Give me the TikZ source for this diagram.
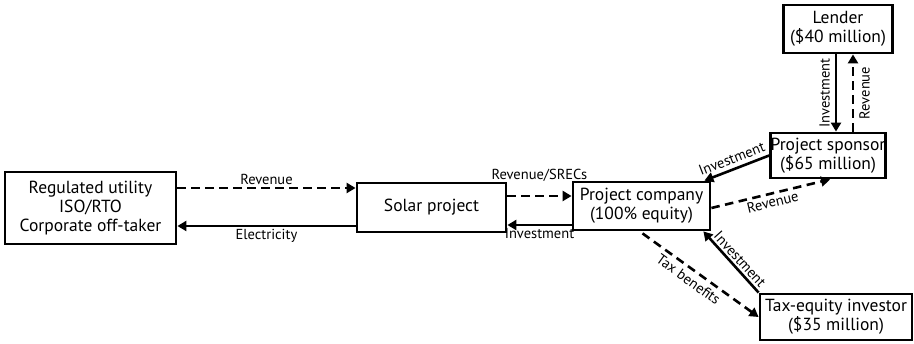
\documentclass[tikz,border=0pt]{standalone}
\usepackage{fontspec}
\setmainfont{PT Sans}
\usetikzlibrary{arrows.meta,calc}
\begin{document}
\begin{tikzpicture}[x=1pt,y=-1pt,
  box/.style={draw,line width=2.8pt,align=center,inner sep=0pt,font=\fontsize{17.5}{19}\selectfont},
  lbl/.style={font=\fontsize{14.5}{16}\selectfont,inner sep=2pt},
  flow/.style={line width=2.6pt,-{Triangle[length=9pt,width=10pt]}},
  money/.style={flow,dash pattern=on 8.5pt off 5.5pt}]
\useasboundingbox (0,0) rectangle (914,344);
% parties
\node[box,minimum width=171pt,minimum height=72pt] (util) at (90.5,208) {Regulated utility\\ISO/RTO\\Corporate off-taker};
\node[box,minimum width=149pt,minimum height=49pt] (solar) at (431.5,207.5) {Solar project};
\node[box,minimum width=137pt,minimum height=48pt] (comp) at (641.5,206) {Project company\\(100\% equity)};
\node[box,minimum width=112pt,minimum height=45pt] (spon) at (828,155.5) {Project sponsor\\(\$65 million)};
\node[box,minimum width=109pt,minimum height=48pt] (lend) at (838,29) {Lender\\(\$40 million)};
\node[box,minimum width=152pt,minimum height=46pt] (tax) at (836,317) {Tax-equity investor\\(\$35 million)};
% utility <-> solar project
\draw[money] (util.east |- 0,188) -- node[lbl,above=0pt] {Revenue} (solar.west |- 0,188);
\draw[flow] (solar.west |- 0,226) -- node[lbl,below=0pt] {Electricity} (util.east |- 0,226);
% solar project <-> project company
\draw[money] (solar.east |- 0,196) -- node[lbl,above=11pt] {Revenue/SRECs} (comp.west |- 0,196);
\draw[flow] (comp.west |- 0,225) -- node[lbl,below=0pt] {Investment} (solar.east |- 0,225);
% sponsor <-> project company
\draw[flow] (spon.west) -- node[lbl,above=2pt,sloped,pos=0.52] {Investment} ([xshift=-7pt]comp.north east);
\draw[money] (comp.east |- 0,208) -- node[lbl,below,sloped] {Revenue} ([xshift=2pt]spon.south);
% lender <-> sponsor
\draw[flow] (lend.south -| 836,0) -- node[lbl,rotate=90,pos=0.5,anchor=south,inner sep=5pt] {Investment} (spon.north -| 836,0);
\draw[money] (spon.north -| 853,0) -- node[lbl,rotate=90,pos=0.5,anchor=north,inner sep=5pt] {Revenue} (lend.south -| 853,0);
% tax-equity investor <-> project company
\draw[money] ([xshift=1pt,yshift=-2pt]comp.south) -- node[lbl,below=2pt,sloped,pos=0.45] {Tax benefits} (tax.west);
\draw[flow] (tax.north west) -- node[lbl,above,sloped,pos=0.45] {Investment} ([xshift=-8pt]comp.south east);
\end{tikzpicture}
\end{document}
